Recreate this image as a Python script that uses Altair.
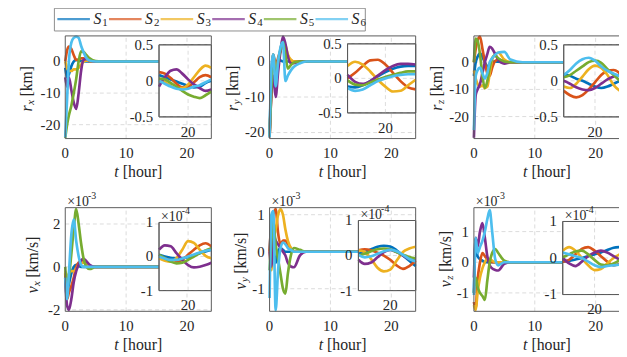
import altair as alt
import pandas as pd

FONT = "Liberation Serif"
INK = "#262626"
GRID = "#d2d2d2"
FRAME = "#5a5a5a"
OFF = 8  # page margin of the html page
LW = 2.7

SERIES = ["S1", "S2", "S3", "S4", "S5", "S6"]
SUB_DIGITS = ["1", "2", "3", "4", "5", "6"]
COLORS = ["#0072BD", "#D95319", "#EDB120", "#7E2F8E", "#77AC30", "#4DBEEE"]

X_TICKS = [0, 10, 20]
T_MAIN = [0, 0.3, 0.6, 1.0, 1.4, 1.8, 2.2, 2.6, 3.0, 3.5, 4.0, 5.0, 6.0, 8.0, 24.0]
T_INSET = [15, 16, 17, 18, 19, 20, 21, 22, 23, 24]

# r_x [km]
RX_MAIN = [
    [-2, -5, -4, -1.5, 0, 0.5, 0.3, 0.1, 0, 0, 0, 0, 0, 0, 0],
    [0, 3.5, 4.7, 4.0, 2.0, 0.5, 0.6, 1.0, 1.0, 0.5, 0.1, 0, 0, 0, 0],
    [0, -2, -3, -3, -2.5, -2.5, -2.0, -1.0, 0, 0.3, 0.2, 0, 0, 0, 0],
    [-5, -8, -5, -9, -13, -15, -10, -3, 0.5, 0.8, 0.3, 0, 0, 0, 0],
    [-24.2, -20, -17, -14, -10, -5.5, 0, 3.2, 3.0, 2.0, 1.0, 0.1, 0, 0, 0],
    [-24, -12, 0, 6, 7.5, 7.9, 7.5, 5, 3, 1, 0.3, 0, 0, 0, 0],
]
RX_INSET = [
    [0.08, 0.05, 0.02, -0.01, -0.04, -0.07, -0.09, -0.08, -0.03, 0.0],
    [0.12, 0.10, 0.04, -0.04, -0.09, -0.08, -0.02, 0.05, 0.08, 0.05],
    [0.02, -0.02, -0.07, -0.10, -0.10, -0.05, 0.05, 0.15, 0.21, 0.18],
    [-0.08, 0.05, 0.14, 0.16, 0.10, 0.02, -0.05, -0.10, -0.14, -0.12],
    [0.03, 0.02, -0.03, -0.08, -0.14, -0.19, -0.22, -0.24, -0.20, -0.15],
    [0.0, -0.04, -0.08, -0.11, -0.12, -0.11, -0.08, -0.06, -0.02, 0.02],
]
# r_y [km]
RY_MAIN = [
    [-21, -4, 2, -1, 0.5, 0.3, 0, 0, 0, 0, 0, 0, 0, 0, 0],
    [-21.4, -8, 1.5, -2, 1, 3, 4.5, 3.5, 1.5, 0.3, 0, 0, 0, 0, 0],
    [-21, -6, 2, -3, 0, 3, 5, 4.5, 2, 0.5, 0, 0, 0, 0, 0],
    [-21, -9, -4, -10, -3, 3, 7.0, 5, 1.5, -0.5, -0.5, 0, 0, 0, 0],
    [-21, -7, 1, -4, 0, 3.5, 5.5, 2, -2, -1, -0.3, 0, 0, 0, 0],
    [-21.4, -2, 2, -7, 0, 4, 5.5, -5.5, -4, -2.5, -1.5, -0.5, 0, 0, 0],
]
RY_INSET = [
    [-0.12, -0.13, -0.10, -0.04, 0.03, 0.09, 0.14, 0.17, 0.18, 0.18],
    [0.0, 0.08, 0.18, 0.26, 0.27, 0.20, 0.08, -0.04, -0.13, -0.16],
    [0.18, 0.24, 0.20, 0.10, -0.02, -0.12, -0.19, -0.18, -0.10, -0.02],
    [0.05, -0.05, -0.08, -0.04, 0.04, 0.12, 0.18, 0.21, 0.21, 0.20],
    [-0.03, -0.09, -0.10, -0.06, -0.02, 0.02, 0.05, 0.08, 0.10, 0.10],
    [-0.14, -0.18, -0.16, -0.10, -0.04, 0.0, 0.03, 0.05, 0.06, 0.06],
]
# r_z [km]
RZ_MAIN = [
    [-5, 0, 2, 3.3, 2, 0, -1.5, -1, 0, 0.3, 0.2, 0, 0, 0, 0],
    [0, 5, 8, 9.5, 5, 0, -4, -5, -2, 0.5, 1, 0.3, 0, 0, 0],
    [-3, -6, -8, -9, -8.5, -9.5, -9, -4, 1, 3.0, 3.5, 1.0, 0, 0, 0],
    [-27.8, -12, -10, -8, -4, 0, 3, 5.7, 5, 3, 1, -0.5, 0, 0, 0],
    [0, 8.7, 8, 3, -5, -9.5, -7, -2, 1.5, 2.5, 1.5, 0.3, 0, 0, 0],
    [-25, -5, -3, -2, -4, -6, -4, 0, 1.5, 2.8, 3.6, 3.8, 1.0, 0, 0],
]
RZ_INSET = [
    [0.09, 0.07, 0.03, 0.0, -0.04, -0.08, -0.10, -0.08, -0.04, 0.0],
    [-0.14, -0.20, -0.23, -0.20, -0.12, -0.02, 0.08, 0.14, 0.15, 0.10],
    [-0.08, -0.10, -0.04, 0.06, 0.16, 0.21, 0.18, 0.08, -0.06, -0.14],
    [0.0, -0.04, -0.09, -0.12, -0.13, -0.10, -0.04, 0.02, 0.06, 0.08],
    [0.05, 0.08, 0.14, 0.20, 0.26, 0.28, 0.25, 0.16, 0.08, 0.0],
    [0.08, 0.15, 0.24, 0.30, 0.32, 0.28, 0.20, 0.14, 0.10, 0.06],
]
# v_x [km/s]: main in 1e-3, inset in 1e-4
VX_MAIN = [
    [-0.3, -1.2, -0.8, -0.3, 0, 0.1, 0.05, 0, 0, 0, 0, 0, 0, 0, 0],
    [-0.3, -1.5, -1.2, -0.9, -0.5, 0, 0.2, 0.3, 0.25, 0.1, 0, 0, 0, 0, 0],
    [-0.2, -0.5, -0.3, -0.2, -0.2, -0.1, 0.1, 0.2, 0.2, 0.1, 0, 0, 0, 0, 0],
    [-0.5, -1.8, -2.0, -1.5, -0.7, -0.2, 0.1, 0.3, 0.38, 0.25, 0.1, 0, 0, 0, 0],
    [0, -1.0, -0.5, 0.6, 1.8, 2.7, 2.0, 1.1, 0.4, 0, -0.1, 0, 0, 0, 0],
    [-0.5, -1.5, -0.3, 1.5, 2.2, 1.2, 0.5, 0.1, 0, 0, 0, 0, 0, 0, 0],
]
VX_INSET = [
    [0.05, 0.0, -0.04, -0.06, -0.05, -0.02, 0.04, 0.10, 0.15, 0.20],
    [0.0, -0.05, -0.12, -0.15, -0.10, 0.05, 0.20, 0.33, 0.39, 0.30],
    [-0.05, -0.12, -0.15, -0.05, 0.20, 0.45, 0.40, 0.20, 0.02, -0.05],
    [0.20, 0.33, 0.30, 0.10, -0.10, -0.25, -0.32, -0.30, -0.25, -0.18],
    [0.05, -0.05, -0.15, -0.20, -0.18, -0.10, 0.0, 0.10, 0.18, 0.24],
    [0.0, -0.06, -0.10, -0.10, -0.06, 0.0, 0.06, 0.12, 0.17, 0.20],
]
# v_y [km/s]
VY_MAIN = [
    [0, 0.6, 0.2, -0.3, 0, 0.1, 0.05, 0, 0, 0, 0, 0, 0, 0, 0],
    [0, 0.8, 1.0, 1.15, 0.5, 0.2, 0.3, 0.3, 0.2, 0.1, 0, 0, 0, 0, 0],
    [0, -0.5, 0.3, 0.6, 1.0, 1.15, 1.0, 0.6, 0.3, 0.1, 0, 0, 0, 0, 0],
    [0, -0.4, 0.5, 0.3, 0.2, 0.1, 0, -0.1, -0.3, -0.4, -0.42, -0.1, 0, 0, 0],
    [-0.5, 0.3, 0.8, 0.2, -0.2, -0.6, -1.0, -1.13, -0.6, -0.1, 0.1, 0.05, 0, 0, 0],
    [-1.25, 1.0, 1.1, -1.58, -0.5, 0.1, 0.25, 0.2, 0.1, 0.05, 0, 0, 0, 0, 0],
]
VY_INSET = [
    [0.05, 0.10, 0.18, 0.25, 0.28, 0.26, 0.15, 0.0, -0.15, -0.30],
    [0.15, 0.18, 0.15, 0.08, 0.0, -0.12, -0.28, -0.38, -0.30, -0.15],
    [0.15, 0.10, -0.10, -0.35, -0.45, -0.40, -0.15, 0.10, 0.20, 0.25],
    [-0.12, -0.24, -0.20, -0.05, 0.10, 0.16, 0.10, 0.0, -0.10, -0.15],
    [0.0, 0.05, 0.12, 0.18, 0.20, 0.18, 0.10, 0.02, -0.04, -0.08],
    [0.02, -0.05, -0.02, 0.05, 0.12, 0.16, 0.12, 0.02, -0.10, -0.17],
]
# v_z [km/s]
VZ_MAIN = [
    [-1.0, 0.6, 0.2, 0.1, 0.05, 0, 0, 0, 0, 0, 0, 0, 0, 0, 0],
    [-1.3, -1.5, -0.6, 0, 0.3, 0.2, 0.1, 0.05, 0, 0, 0, 0, 0, 0, 0],
    [-1.4, -1.56, -1.0, -0.5, -0.2, 0, 0.1, 0.1, 0.05, 0, 0, 0, 0, 0, 0],
    [-0.5, 0.8, 0.5, 1.0, 1.28, 0.8, 0.2, -0.1, -0.2, -0.25, -0.27, -0.05, 0, 0, 0],
    [-1.0, -0.5, -0.8, -1.0, -1.1, -1.23, -0.6, 0, 0.3, 0.43, 0.3, 0.05, 0, 0, 0],
    [-1.07, 0.8, 0.3, 0.5, 0.7, 1.0, 1.4, 1.7, 1.0, 0.1, -0.1, 0, 0, 0, 0],
]
VZ_INSET = [
    [-0.10, -0.08, -0.04, 0.0, 0.05, 0.10, 0.15, 0.22, 0.28, 0.30],
    [-0.10, -0.05, 0.10, 0.25, 0.30, 0.20, 0.05, -0.10, -0.20, -0.15],
    [0.20, 0.30, 0.20, 0.0, -0.20, -0.33, -0.30, -0.15, 0.0, 0.10],
    [0.0, -0.15, -0.22, -0.10, 0.05, 0.15, 0.20, 0.15, 0.05, -0.05],
    [0.02, 0.10, 0.18, 0.20, 0.10, -0.05, -0.18, -0.20, -0.15, -0.05],
    [0.15, 0.10, 0.05, 0.0, -0.10, -0.20, -0.25, -0.22, -0.20, -0.18],
]

# layout (screen pixels): box = (left, right, top, bottom)
PANELS = [
    dict(main=RX_MAIN, inset=RX_INSET, box=(66, 214, 34, 138), ydom=(-24.4, 8.1), yticks=[-20, -10, 0],
         ibox=(161, 214, 43, 116), iydom=(-0.5, 0.5), iyticks=[-0.5, 0, 0.5],
         title=("r", "x", "[km]"), tc=(27, 87.5), exp=None),
    dict(main=RY_MAIN, inset=RY_INSET, box=(273, 421, 34, 138), ydom=(-21.7, 7.2), yticks=[-20, -10, 0],
         ibox=(352, 421, 42, 112), iydom=(-0.5, 0.5), iyticks=[-0.5, 0, 0.5],
         title=("r", "y", "[km]"), tc=(236, 87), exp=None),
    dict(main=RZ_MAIN, inset=RZ_INSET, box=(480, 628, 34, 138), ydom=(-28.1, 9.7), yticks=[-20, -10, 0],
         ibox=(571, 628, 43, 116), iydom=(-0.5, 0.5), iyticks=[-0.5, 0, 0.5],
         title=("r", "z", "[km]"), tc=(443, 87), exp=None),
    dict(main=VX_MAIN, inset=VX_INSET, box=(66, 214, 208, 313), ydom=(-2.07, 2.76), yticks=[-2, 0, 2],
         ibox=(161, 214, 223, 292), iydom=(-1, 1), iyticks=[-1, 0, 1],
         title=("v", "x", "[km/s]"), tc=(33, 266), exp=("-3", "-4")),
    dict(main=VY_MAIN, inset=VY_INSET, box=(273, 421, 208, 313), ydom=(-1.61, 1.19), yticks=[-1, 0, 1],
         ibox=(363, 421, 221, 292), iydom=(-1, 1), iyticks=[-1, 0, 1],
         title=("v", "y", "[km/s]"), tc=(244, 262), exp=("-3", "-4")),
    dict(main=VZ_MAIN, inset=VZ_INSET, box=(480, 628, 208, 313), ydom=(-1.60, 1.78), yticks=[-1, 0, 1],
         ibox=(570, 628, 222, 296), iydom=(-1, 1), iyticks=[-1, 0, 1],
         title=("v", "z", "[km/s]"), tc=(452, 260), exp=("-3", "-4")),
]

color_scale = alt.Scale(domain=SERIES, range=COLORS)
ONE = pd.DataFrame({"k": [0]})
EM = {"r": 0.39, "v": 0.44, "t": 0.28, "x": 0.44, "y": 0.44, "z": 0.39,
      "[km]": 1.94, "[km/s]": 2.61, "[hour]": 2.5}


def long_df(ts, rows):
    recs = []
    for s, vals in zip(SERIES, rows):
        for t, v in zip(ts, vals):
            recs.append({"t": t, "v": v, "s": s})
    return pd.DataFrame(recs)


def label(text, x, y, size=15, align="center", baseline="middle", style="normal", angle=0, dx=0, dy=0):
    kw = dict(text=text, font=FONT, fontSize=size, align=align, baseline=baseline,
              fontStyle=style, color=INK, dx=dx, dy=dy)
    if angle:
        kw["angle"] = angle
    return alt.Chart(ONE).mark_text(**kw).encode(x=alt.value(x - OFF), y=alt.value(y - OFF))


def y_title(cx, cy, main, sub, rest, size=16, sub_size=11):
    wm, ws, sp, wr = EM[main] * size, EM[sub] * sub_size, 0.25 * size, EM[rest] * size
    start = -(wm + ws + sp + wr) / 2
    return [
        label(main, cx, cy, size=size, align="left", style="italic", angle=270, dx=start),
        label(sub, cx, cy, size=sub_size, align="left", style="italic", angle=270, dx=start + wm + 0.5, dy=4),
        label(rest, cx, cy, size=size, align="left", angle=270, dx=start + wm + ws + sp),
    ]


def x_title(cx, cy, size=16):
    wm, sp, wr = EM["t"] * size, 0.25 * size, EM["[hour]"] * size
    x0 = cx - (wm + sp + wr) / 2
    return [label("t", x0, cy, size=size, align="left", style="italic"),
            label("[hour]", x0 + wm + sp, cy, size=size, align="left")]


def power(x, y, e):
    return [label("×10", x, y, size=14, align="left"), label(e, x + 21, y - 6, size=10, align="left")]


def axes_layers(xs, ys, x0, x1, y0, y1, xgrid, yticks, line_df, white):
    X = lambda f: alt.X(f, type="quantitative", scale=xs, axis=None)
    Y = lambda f: alt.Y(f, type="quantitative", scale=ys, axis=None)
    out = []
    box = pd.DataFrame([{"x": x0, "x2": x1, "y": y0, "y2": y1}])
    if white:
        out.append(alt.Chart(box).mark_rect(fill="white", stroke=FRAME, strokeWidth=1)
                   .encode(x=X("x"), x2=alt.X2("x2"), y=Y("y"), y2=alt.Y2("y2")))
    grid = pd.DataFrame([{"x": t, "x2": t, "y": y0, "y2": y1} for t in xgrid] +
                        [{"x": x0, "x2": x1, "y": v, "y2": v} for v in yticks])
    out.append(alt.Chart(grid).mark_rule(color=GRID, strokeWidth=0.8, strokeDash=[4, 3])
               .encode(x=X("x"), x2=alt.X2("x2"), y=Y("y"), y2=alt.Y2("y2")))
    out.append(alt.Chart(line_df).mark_line(strokeWidth=LW, interpolate="monotone")
               .encode(x=X("t"), y=Y("v"), color=alt.Color("s:N", scale=color_scale, legend=None)))
    out.append(alt.Chart(box).mark_rect(fillOpacity=0, stroke=FRAME, strokeWidth=1)
               .encode(x=X("x"), x2=alt.X2("x2"), y=Y("y"), y2=alt.Y2("y2")))
    return out


layers = []
for p in PANELS:
    L, R, T, B = p["box"]
    y0, y1 = p["ydom"]
    xs = alt.Scale(domain=[0, 24], range=[L - OFF, R - OFF], nice=False, zero=False)
    ys = alt.Scale(domain=[y0, y1], range=[B - OFF, T - OFF], nice=False, zero=False)
    layers += axes_layers(xs, ys, 0, 24, y0, y1, X_TICKS[1:], p["yticks"],
                          long_df(T_MAIN, p["main"]), False)
    X = lambda f, s=xs: alt.X(f, type="quantitative", scale=s, axis=None)
    Y = lambda f, s=ys: alt.Y(f, type="quantitative", scale=s, axis=None)
    xt = pd.DataFrame({"t": X_TICKS, "y": [y0] * len(X_TICKS), "lab": [f"{v:g}" for v in X_TICKS]})
    layers.append(alt.Chart(xt).mark_text(font=FONT, fontSize=15, color=INK, dy=15, baseline="middle")
                  .encode(x=X("t"), y=Y("y"), text="lab:N"))
    yt = pd.DataFrame({"x": [0] * len(p["yticks"]), "v": p["yticks"], "lab": [f"{v:g}" for v in p["yticks"]]})
    layers.append(alt.Chart(yt).mark_text(font=FONT, fontSize=15, color=INK, dx=-5, align="right", baseline="middle")
                  .encode(x=X("x"), y=Y("v"), text="lab:N"))

    # inset
    iL, iR, iT, iB = p["ibox"]
    iy0, iy1 = p["iydom"]
    ixs = alt.Scale(domain=[T_INSET[0], T_INSET[-1]], range=[iL - OFF, iR - OFF], nice=False, zero=False)
    iys = alt.Scale(domain=[iy0, iy1], range=[iB - OFF, iT - OFF], nice=False, zero=False)
    layers += axes_layers(ixs, iys, T_INSET[0], T_INSET[-1], iy0, iy1, [20], p["iyticks"],
                          long_df(T_INSET, p["inset"]), True)
    IX = lambda f, s=ixs: alt.X(f, type="quantitative", scale=s, axis=None)
    IY = lambda f, s=iys: alt.Y(f, type="quantitative", scale=s, axis=None)
    ixt = pd.DataFrame({"t": [20], "y": [iy0], "lab": ["20"]})
    layers.append(alt.Chart(ixt).mark_text(font=FONT, fontSize=15, color=INK, dy=15, baseline="middle")
                  .encode(x=IX("t"), y=IY("y"), text="lab:N"))
    iyt = pd.DataFrame({"x": [T_INSET[0]] * len(p["iyticks"]), "v": p["iyticks"],
                        "lab": [f"{v:g}" for v in p["iyticks"]]})
    layers.append(alt.Chart(iyt).mark_text(font=FONT, fontSize=15, color=INK, dx=-6, align="right", baseline="middle")
                  .encode(x=IX("x"), y=IY("v"), text="lab:N"))

    # titles and exponent labels
    layers += y_title(p["tc"][0], p["tc"][1], *p["title"])
    layers += x_title((L + R) / 2, B + 34)
    if p["exp"]:
        layers += power(L + 2, T - 6, p["exp"][0])
        layers += power(iL + 2, iT - 6, p["exp"][1])

# legend
leg_df = pd.DataFrame({"s": SERIES, "d": SUB_DIGITS})
lx = alt.Scale(type="point", domain=SERIES, range=[74.5 - OFF, 336 - OFF], padding=0)
LEG_Y = 17 - OFF
layers.append(alt.Chart(ONE).mark_rect(fill="white", stroke="#8c8c8c", strokeWidth=1)
              .encode(x=alt.value(55 - OFF), x2=alt.value(370 - OFF), y=alt.value(6 - OFF), y2=alt.value(29 - OFF)))
layers.append(alt.Chart(leg_df).mark_tick(orient="horizontal", size=33, thickness=2.5)
              .encode(x=alt.X("s:N", scale=lx, axis=None), y=alt.value(LEG_Y),
                      color=alt.Color("s:N", scale=color_scale, legend=None)))
layers.append(alt.Chart(leg_df).mark_text(text="S", font=FONT, fontSize=16, fontStyle="italic", color=INK,
                                          align="left", baseline="middle", dx=20)
              .encode(x=alt.X("s:N", scale=lx, axis=None), y=alt.value(LEG_Y)))
layers.append(alt.Chart(leg_df).mark_text(font=FONT, fontSize=11, color=INK, align="left", baseline="middle",
                                          dx=29, dy=4)
              .encode(x=alt.X("s:N", scale=lx, axis=None), y=alt.value(LEG_Y), text="d:N"))

chart = (
    alt.layer(*layers)
    .resolve_scale(x="independent", y="independent")
    .properties(width=619, height=349, autosize=alt.AutoSizeParams(type="none"), padding=0)
    .configure_view(strokeOpacity=0)
)

chart.save("out.html", embed_options={"renderer": "svg", "actions": False})
